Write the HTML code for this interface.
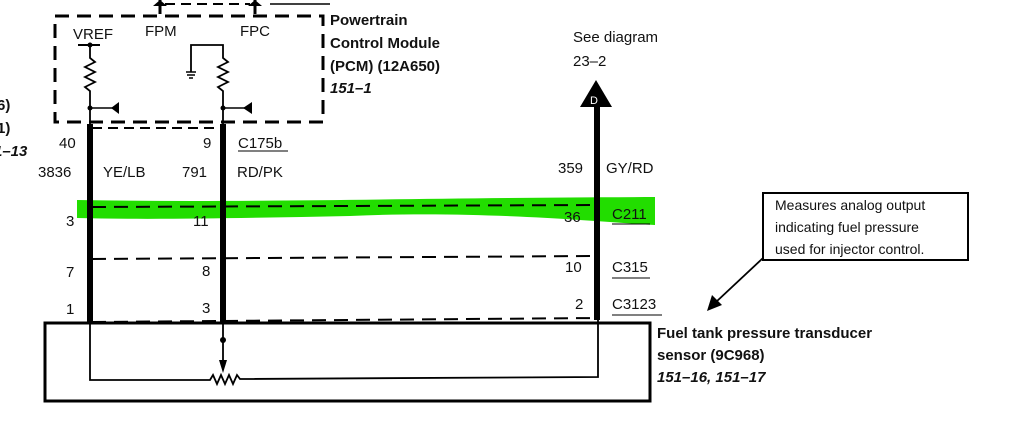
<!DOCTYPE html>
<html><head><style>
body{margin:0;background:#fff}
svg{display:block}
text{font-family:"Liberation Sans",sans-serif;fill:#111}
.b{font-weight:bold}
</style></head><body>
<svg width="1022" height="435" viewBox="0 0 1022 435">
<!-- top stubs -->
<line x1="160" y1="0" x2="160" y2="14" stroke="#000" stroke-width="3"/>
<line x1="255" y1="0" x2="255" y2="14" stroke="#000" stroke-width="3"/>
<path d="M153 6 L160 0 L167 6Z M248 6 L255 0 L262 6Z" fill="#000"/>
<line x1="165" y1="4" x2="250" y2="4" stroke="#000" stroke-width="2" stroke-dasharray="10,6"/>
<line x1="270" y1="4" x2="330" y2="4" stroke="#000" stroke-width="1.5"/>
<!-- PCM box -->
<rect x="55" y="16" width="268" height="106" fill="none" stroke="#000" stroke-width="3" stroke-dasharray="14,8"/>
<text x="73" y="39" font-size="15">VREF</text>
<text x="145" y="36" font-size="15">FPM</text>
<text x="240" y="36" font-size="15">FPC</text>
<line x1="78" y1="45" x2="100" y2="45" stroke="#000" stroke-width="2"/>
<circle cx="90" cy="45" r="2.5"/>
<polyline points="90,45 90,58 95,62 85,67 95,72 85,77 95,82 85,87 90,91 90,128" fill="none" stroke="#000" stroke-width="1.8"/>
<circle cx="90" cy="108" r="2.5"/>
<line x1="90" y1="108" x2="113" y2="108" stroke="#000" stroke-width="1.5"/>
<path d="M111 108 L119 102 L119 114Z"/>
<polyline points="191,72 191,45 223,45 223,58 228,62 218,67 228,72 218,77 228,82 218,87 223,91 223,128" fill="none" stroke="#000" stroke-width="1.8"/>
<path d="M186 72 h10 M187 75 h8 M189 78 h4" stroke="#000" stroke-width="1.5"/>
<circle cx="223" cy="108" r="2.5"/>
<line x1="223" y1="108" x2="245" y2="108" stroke="#000" stroke-width="1.5"/>
<path d="M243 108 L252 102 L252 114Z"/>
<text class="b" x="330" y="25" font-size="15">Powertrain</text>
<text class="b" x="330" y="48" font-size="15">Control Module</text>
<text class="b" x="330" y="71" font-size="15">(PCM) (12A650)</text>
<text class="b" x="330" y="93" font-size="15" font-style="italic">151–1</text>
<text class="b" x="-3" y="110" font-size="15">6)</text>
<text class="b" x="-3" y="133" font-size="15">1)</text>
<text class="b" x="-6" y="156" font-size="15" font-style="italic">1–13</text>
<!-- green highlight -->
<path d="M77 200 C250 203 400 198 655 197 L655 225 C600 222 480 210 350 216 C250 218 150 220 77 218Z" fill="#22dd00"/>
<!-- connectors -->
<line x1="92" y1="128" x2="223" y2="128" stroke="#000" stroke-width="2" stroke-dasharray="10,6"/>
<line x1="92" y1="207" x2="598" y2="205" stroke="#000" stroke-width="2" stroke-dasharray="14,8"/>
<line x1="92" y1="259" x2="598" y2="256" stroke="#000" stroke-width="2" stroke-dasharray="14,8"/>
<line x1="92" y1="322" x2="598" y2="318" stroke="#000" stroke-width="2" stroke-dasharray="14,8"/>
<!-- wires -->
<line x1="90" y1="124" x2="90" y2="322" stroke="#000" stroke-width="6"/>
<line x1="223" y1="124" x2="223" y2="322" stroke="#000" stroke-width="6"/>
<line x1="597" y1="105" x2="597" y2="320" stroke="#000" stroke-width="6"/>
<path d="M596 80 L580 107 L612 107Z"/>
<text x="590" y="104" font-size="11" fill="#fff" style="fill:#fff">D</text>
<text x="573" y="42" font-size="15">See diagram</text>
<text x="573" y="66" font-size="15">23–2</text>
<!-- labels -->
<text x="59" y="148" font-size="15">40</text>
<text x="203" y="148" font-size="15">9</text>
<text x="238" y="148" font-size="15">C175b</text>
<line x1="238" y1="151" x2="288" y2="151" stroke="#000"/>
<text x="38" y="177" font-size="15">3836</text>
<text x="103" y="177" font-size="15">YE/LB</text>
<text x="182" y="177" font-size="15">791</text>
<text x="237" y="177" font-size="15">RD/PK</text>
<text x="558" y="173" font-size="15">359</text>
<text x="606" y="173" font-size="15">GY/RD</text>
<text x="66" y="226" font-size="15">3</text>
<text x="193" y="226" font-size="15">11</text>
<text x="564" y="222" font-size="15">36</text>
<text x="612" y="219" font-size="15">C211</text>
<line x1="612" y1="224" x2="650" y2="224" stroke="#000"/>
<text x="66" y="277" font-size="15">7</text>
<text x="202" y="276" font-size="15">8</text>
<text x="565" y="272" font-size="15">10</text>
<text x="612" y="272" font-size="15">C315</text>
<line x1="612" y1="278" x2="650" y2="278" stroke="#000"/>
<text x="66" y="314" font-size="15">1</text>
<text x="202" y="313" font-size="15">3</text>
<text x="575" y="309" font-size="15">2</text>
<text x="612" y="309" font-size="15">C3123</text>
<line x1="612" y1="315" x2="662" y2="315" stroke="#000"/>
<!-- sensor -->
<rect x="45" y="323" width="605" height="78" fill="none" stroke="#000" stroke-width="3"/>
<polyline points="90,322 90,380 210,380 213,375 217,384 221,375 225,384 229,375 233,384 237,375 240,379 598,377 598,320" fill="none" stroke="#000" stroke-width="1.8"/>
<line x1="223" y1="322" x2="223" y2="362" stroke="#000" stroke-width="1.8"/>
<circle cx="223" cy="340" r="3"/>
<path d="M223 373 L219 360 L227 360Z"/>
<text class="b" x="657" y="338" font-size="15">Fuel tank pressure transducer</text>
<text class="b" x="657" y="360" font-size="15">sensor (9C968)</text>
<text class="b" x="657" y="382" font-size="15" font-style="italic">151–16, 151–17</text>
<!-- note -->
<rect x="763" y="193" width="205" height="67" fill="#fff" stroke="#000" stroke-width="2"/>
<text x="775" y="210" font-size="14">Measures analog output</text>
<text x="775" y="232" font-size="14">indicating fuel pressure</text>
<text x="775" y="254" font-size="14">used for injector control.</text>
<line x1="763" y1="258" x2="716" y2="302" stroke="#000" stroke-width="1.8"/>
<path d="M707 311 L712 295 L722 305Z"/>
</svg>
</body></html>
